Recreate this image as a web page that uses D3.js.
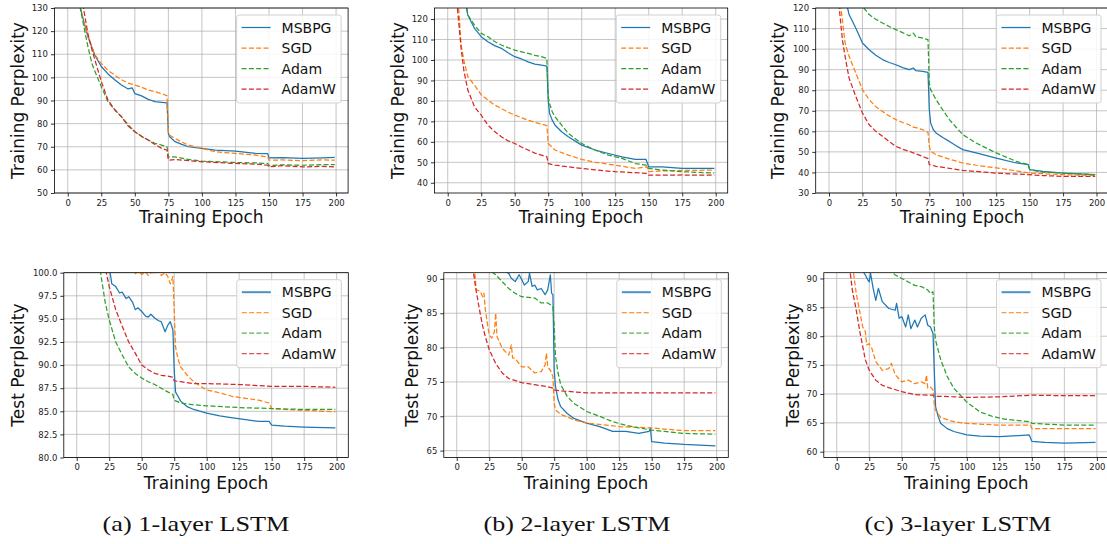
<!DOCTYPE html>
<html><head><meta charset="utf-8">
<script src="https://cdn.jsdelivr.net/npm/d3@7/dist/d3.min.js"></script>
<style>
html,body{margin:0;padding:0;background:#fff;}
svg{display:block;font-family:"DejaVu Sans",sans-serif;}
</style></head>
<body>
<svg id="fig" width="1107" height="544"></svg>
<script>
// ---------------- data (epoch, value) ----------------
const seriesNames = ["MSBPG", "SGD", "Adam", "AdamW"];
const seriesColors = ["#1f77b4", "#ff7f0e", "#2ca02c", "#d62728"];
const xTicks = [0, 25, 50, 75, 100, 125, 150, 175, 200];
const captions = ["(a) 1-layer LSTM", "(b) 2-layer LSTM", "(c) 3-layer LSTM"];

// 1-layer training
const train1MSBPG = [[1,260],[5,170],[9,131],[12,124],[15,117.7],[20,109.8],[25,104.7],[30,101.5],[35,99],[40,96.7],[45,95],[48,95.5],[50,93],[55,92],[60,90.5],[65,89.5],[70,89.2],[74,89],[75,75.8],[76,74.3],[80,72.2],[85,71],[90,70],[100,69.3],[110,68.5],[125,68.1],[140,67.1],[149,67],[150,65.2],[160,65.3],[175,65],[190,65.2],[199,65.4]];
const train1SGD = [[1,260],[5,170],[9,131],[12,124],[15,118],[20,110],[25,106],[30,103],[35,101],[40,99],[45,97.5],[50,96.7],[55,95.8],[60,94.5],[65,93.8],[70,93],[74,92],[75,76.5],[76,75],[80,73.6],[85,72],[90,70.7],[100,69.3],[110,67.8],[125,67.1],[140,66.4],[149,65.6],[150,64.2],[160,64.3],[175,64],[190,64.3],[199,64.2]];
const train1Adam = [[1,260],[5,165],[9,131],[12,122],[15,113.4],[18,106],[20,103],[25,96],[30,89.5],[35,86],[40,83],[45,79.5],[50,76.5],[55,74.5],[60,72.9],[65,71.5],[70,70.7],[74,70],[75,65.6],[80,65.6],[90,64.5],[100,63.8],[125,63.2],[140,63],[149,62.8],[150,61.8],[160,62.2],[175,62],[190,62.3],[199,62.3]];
const train1AdamW = [[1,280],[5,190],[9,145],[12,129],[15,119],[18,112],[20,108],[25,98.2],[30,90.2],[35,86],[40,83],[45,79],[50,76.5],[55,74.5],[60,72.9],[65,71],[70,69.3],[74,68.5],[75,64.2],[80,64.5],[90,64],[100,63.5],[125,62.8],[140,62.5],[149,62],[150,61.3],[160,61.8],[175,61.3],[190,61.5],[199,61.3]];

// 2-layer training
const train2MSBPG = [[1,300],[10,150],[14,125.5],[15,122],[20,115.4],[25,111.4],[30,108.9],[35,107],[40,105.7],[45,103.5],[50,101.6],[55,100.5],[60,99.1],[65,98],[70,97.5],[74,97],[75,80.4],[76,73.9],[78,70.6],[80,68.2],[85,64.9],[90,62.5],[100,58.4],[110,56],[120,54.3],[130,52.7],[140,51.4],[148,51.4],[150,47.8],[160,47.8],[175,47],[199,47]];
const train2SGD = [[1,250],[5,170],[8,127],[10,107.3],[12,100],[15,91.8],[20,87.7],[25,82.9],[30,80.4],[35,78],[40,76.3],[45,74.5],[50,73.1],[55,71.8],[60,70.6],[65,69.5],[70,68.7],[74,67.9],[75,59.2],[80,56],[90,53.5],[100,51.4],[110,50],[125,48.6],[140,47],[149,47.8],[150,45.4],[160,45.8],[175,46],[199,46.2]];
const train2Adam = [[1,300],[10,150],[14,126],[15,122],[20,117],[25,113],[30,111.4],[35,109],[40,107.3],[45,106],[50,104.8],[55,104],[60,103.2],[65,102.3],[70,101.6],[74,100.8],[75,82],[76,78.8],[78,74.7],[80,72.3],[85,68.2],[90,64.1],[100,59.2],[110,56],[120,53.5],[130,51.9],[140,49.4],[148,48.6],[150,47],[160,46.2],[175,45.4],[199,44.8]];
const train2AdamW = [[1,250],[5,150],[7,127],[10,105.7],[12,95],[15,85.3],[20,77.1],[25,73],[30,68.2],[35,65],[40,62.5],[45,60.5],[50,59.2],[55,57.5],[60,56],[65,54.5],[70,53.5],[74,52.7],[75,49.4],[80,48.6],[90,47.8],[100,47],[110,46.3],[125,45.4],[140,44.9],[149,44.6],[150,43.7],[175,43.8],[199,43.7]];

// 3-layer training
const train3MSBPG = [[1,250],[10,140],[13.7,120.5],[15,116.8],[20,110.3],[25,103],[30,99.7],[35,97],[40,94.9],[45,93.5],[50,92.4],[55,91],[60,90],[63,90.8],[65,89.5],[70,89.2],[74,88.7],[75,70.5],[76,64],[78,60.8],[80,59.2],[85,57],[90,55.1],[95,53],[100,51.1],[110,49.5],[125,47],[140,44.6],[149,43.8],[150,41.4],[160,40.5],[175,39.7],[199,38.9]];
const train3SGD = [[1,200],[8.7,121],[10,114.3],[12,103],[15,96.5],[20,88.4],[25,80.3],[30,75.4],[35,72],[40,69.7],[45,67.5],[50,65.7],[55,64.3],[60,63.2],[63,62],[65,61.8],[70,60.8],[74,59.5],[75,52.7],[76,50.3],[80,48.6],[90,46.5],[100,44.6],[110,43.5],[125,42.2],[140,40.8],[150,39.7],[175,38.9],[199,38.6]];
const train3Adam = [[1,300],[15,150],[25,120.8],[30,116.8],[35,114.5],[40,112.7],[45,111],[50,109.5],[55,108],[60,106.5],[63,107.8],[65,106],[70,105.4],[74,104.6],[75,83.5],[76,80.3],[80,75.4],[85,70.5],[90,65.7],[95,62],[100,58.4],[110,54.3],[125,49.5],[140,45.4],[149,43.8],[150,41.4],[160,40.1],[175,39.7],[199,38.9]];
const train3AdamW = [[1,200],[7.5,121],[10,104.6],[12,96.5],[15,85.9],[20,77],[25,68.9],[30,63.2],[35,60],[40,57.6],[45,55],[50,52.7],[55,51.3],[60,50.3],[63,49.5],[65,49],[70,47.8],[74,46.7],[75,43.8],[80,43],[90,42],[100,41],[125,39.7],[150,38.9],[160,38.5],[175,38.1],[199,38.1]];

// 1-layer test
const test1MSBPG = [[1,150],[20,110],[25.6,100.1],[27,98.8],[30,98.5],[33,97.8],[35,97.9],[38,97.2],[40,97.4],[43,96.8],[45,96],[47,96.2],[50,95.8],[53,95.3],[55,95.2],[57,95.5],[60,95.1],[63,94.8],[65,94.7],[68,93.6],[70,94.3],[72,94.7],[74,93.8],[75,89.5],[76,87.1],[78,86.6],[80,86.1],[85,85.5],[90,85.2],[100,84.8],[110,84.5],[120,84.3],[130,84.1],[140,83.9],[148,83.9],[150,83.5],[160,83.4],[175,83.3],[199,83.2]];
const test1SGD = [[1,150],[40,101],[45,99.9],[48,100.2],[50,99.8],[53,100.1],[55,99.7],[58,100.1],[60,99.9],[63,100.2],[65,99.7],[68,100],[70,99.6],[72,98.8],[74,99.6],[75,96],[76,92],[78,90.6],[80,89.8],[85,88.9],[90,88.2],[100,87.3],[110,87],[120,86.6],[130,86.4],[140,86.2],[148,85.9],[150,85.3],[160,85.2],[175,85.1],[199,84.95]];
const test1Adam = [[1,150],[15,105],[18,100.3],[20,98.5],[22,96.7],[25,94.9],[30,92.5],[35,91.1],[40,89.8],[45,89.1],[50,88.6],[55,88.2],[60,87.9],[65,87.5],[70,87.1],[74,86.8],[75,86.2],[80,85.9],[90,85.7],[100,85.6],[125,85.4],[150,85.3],[175,85.2],[199,85.2]];
const test1AdamW = [[1,150],[20,103],[22.6,100.1],[25,98.5],[30,96],[35,94.2],[40,92.5],[45,91.3],[50,90],[55,89.5],[60,89.1],[65,88.9],[70,88.8],[74,88.7],[75,88.3],[80,88.2],[90,88],[100,88],[125,87.9],[150,87.7],[175,87.7],[199,87.6]];

// 2-layer test
const test2MSBPG = [[1,130],[30,95],[38,91],[40,90.8],[42,90.1],[45,89.6],[48,90.6],[50,89.9],[52,89.1],[55,89.6],[56,90.8],[58,88.9],[60,89.1],[62,88.4],[65,88.6],[68,87.7],[70,88.4],[72,90.6],[73,87.9],[74,87.7],[75,76.7],[76,74.3],[78,72.4],[80,71.4],[85,70.4],[90,69.7],[100,69],[110,68.5],[120,67.8],[130,67.8],[140,67.5],[148,67.8],[149,68.3],[150,66.3],[160,66.1],[175,65.9],[199,65.7]];
const test2SGD = [[1,130],[12,95],[15,88.4],[18,88.2],[20,87.4],[21,87.9],[22,85.5],[25,81.8],[27,81.4],[29,82.3],[30,85],[31,81.6],[35,79.9],[40,78.9],[42,80.4],[43,78.5],[45,78.4],[50,77.2],[55,77.2],[60,76.3],[65,76.5],[68,77.5],[69,79.2],[70,77.2],[72,76.7],[74,75.8],[75,71.9],[76,70.9],[80,70.3],[90,69.5],[100,69],[125,68.5],[150,68.3],[175,67.9],[199,67.9]];
const test2Adam = [[1,130],[20,97],[27,91],[30,90.6],[35,89.6],[40,88.6],[45,87.9],[50,87.4],[55,87.3],[60,87.2],[65,86.5],[70,86.5],[74,86],[75,83.1],[76,78.7],[78,76.3],[80,74.6],[85,72.9],[90,71.9],[100,70.7],[110,70],[120,69.2],[130,68.7],[140,68.3],[150,68],[160,67.8],[175,67.5],[199,67.4]];
const test2AdamW = [[1,130],[10,96],[12.8,91],[15,88.2],[18,85],[20,83.1],[22,81.6],[25,79.7],[30,77.7],[35,76.3],[40,75.5],[50,74.9],[60,74.6],[70,74.3],[74,74.1],[75,73.8],[80,73.7],[100,73.4],[125,73.4],[150,73.4],[199,73.4]];

// 3-layer test
const test3MSBPG = [[1,130],[15,100],[20.5,91.1],[22,90.6],[24,89.7],[25,89.4],[26,90.9],[28,88.3],[30,86.2],[32,88.3],[35,86],[40,84.8],[45,84.5],[46,85.7],[48,83.1],[50,83.4],[53,81.6],[55,83.7],[57,81.3],[60,82.8],[62,81.6],[65,83.1],[68,83.7],[70,81.9],[72,81.6],[74,80.5],[75,74.1],[76,67.8],[78,66.1],[80,64.9],[85,64],[90,63.5],[100,62.9],[110,62.7],[125,62.6],[140,62.8],[148,62.9],[150,61.8],[160,61.6],[175,61.5],[199,61.6]];
const test3SGD = [[1,130],[10,100],[12.8,91.1],[15,87.4],[18,83.9],[20,81.6],[22,80.8],[23,78.5],[25,78.7],[27,77.9],[30,75.6],[35,74.1],[40,74.4],[42,75.3],[45,73.3],[50,72.1],[55,72.4],[60,71.8],[65,72.1],[68,71.8],[69,73.3],[70,71],[72,71.2],[74,70.7],[75,68.4],[76,67.2],[80,65.9],[90,65.2],[100,64.9],[125,64.6],[149,64.6],[150,64],[175,64],[199,64]];
const test3Adam = [[1,130],[30,100],[42,91.2],[45,90.6],[50,90],[55,89.4],[60,88.8],[65,88.6],[70,88],[72,87.4],[74,87.7],[75,81.6],[76,79.3],[80,75.9],[85,73],[90,71],[100,68.6],[110,66.9],[120,66.1],[130,65.6],[140,65.4],[149,65.2],[150,64.9],[160,64.8],[175,64.6],[199,64.6]];
const test3AdamW = [[1,130],[8,100],[10.3,91.1],[12,88],[15,84.5],[18,80.5],[20,78.2],[22,75.9],[25,74.1],[30,72.4],[35,71.5],[40,71.1],[50,70.4],[60,69.9],[70,69.8],[74,69.8],[75,69.6],[80,69.6],[100,69.4],[125,69.5],[150,69.8],[175,69.7],[199,69.7]];

const yTicksTrain1 = [50,60,70,80,90,100,110,120,130];
const yTicksTrain2 = [40,50,60,70,80,90,100,110,120];
const yTicksTrain3 = [30,40,50,60,70,80,90,100,110,120];
const yTicksTest1 = [80,82.5,85,87.5,90,92.5,95,97.5,100];
const yTicksTest2 = [65,70,75,80,85,90];
const yTicksTest3 = [60,65,70,75,80,85,90];

// ---------------- layout ----------------
const panels = [
  {left:54.4, right:348.1, top:8, bottom:193, xdom:[-9.95,208.95], ydom:[50,130], yticks:yTicksTrain1, fmt:d3.format("d"), ylabel:"Training Perplexity", ylabX:24, xlabY:223, series:[train1MSBPG,train1SGD,train1Adam,train1AdamW], test:false},
  {left:434.4, right:727.7, top:8, bottom:193, xdom:[-9.95,208.95], ydom:[35,125.4], yticks:yTicksTrain2, fmt:d3.format("d"), ylabel:"Training Perplexity", ylabX:404, xlabY:223, series:[train2MSBPG,train2SGD,train2Adam,train2AdamW], test:false},
  {left:815.7, right:1108.5, top:8, bottom:193, xdom:[-9.95,208.95], ydom:[30,120], yticks:yTicksTrain3, fmt:d3.format("d"), ylabel:"Training Perplexity", ylabX:784, xlabY:223, series:[train3MSBPG,train3SGD,train3Adam,train3AdamW], test:false},
  {left:63.8, right:348.3, top:272.7, bottom:457.5, xdom:[-9.95,208.95], ydom:[80,100], yticks:yTicksTest1, fmt:d3.format(".1f"), ylabel:"Test Perplexity", ylabX:24, xlabY:488.5, series:[test1MSBPG,test1SGD,test1Adam,test1AdamW], test:true},
  {left:443.8, right:728.3, top:272.7, bottom:457.5, xdom:[-9.95,208.95], ydom:[64,90.9], yticks:yTicksTest2, fmt:d3.format("d"), ylabel:"Test Perplexity", ylabX:418, xlabY:488.5, series:[test2MSBPG,test2SGD,test2Adam,test2AdamW], test:true},
  {left:823.8, right:1108.5, top:272.7, bottom:457.5, xdom:[-9.95,208.95], ydom:[59,91], yticks:yTicksTest3, fmt:d3.format("d"), ylabel:"Test Perplexity", ylabX:799, xlabY:488.5, series:[test3MSBPG,test3SGD,test3Adam,test3AdamW], test:true}
];
const captionX = [196, 577, 958];

const svg = d3.select("#fig");
const defs = svg.append("defs");

panels.forEach((p, i) => {
  const x = d3.scaleLinear().domain(p.xdom).range([p.left, p.right]);
  const y = d3.scaleLinear().domain(p.ydom).range([p.bottom, p.top]);
  const g = svg.append("g");
  const clipId = "clip" + i;
  defs.append("clipPath").attr("id", clipId).append("rect")
    .attr("x", p.left).attr("y", p.top).attr("width", p.right - p.left).attr("height", p.bottom - p.top);

  // grid
  g.append("g").selectAll("line").data(xTicks).join("line")
    .attr("x1", d => x(d)).attr("x2", d => x(d)).attr("y1", p.top).attr("y2", p.bottom)
    .attr("stroke", "#b0b0b0").attr("stroke-width", 0.9).attr("opacity", 0.8);
  g.append("g").selectAll("line").data(p.yticks).join("line")
    .attr("x1", p.left).attr("x2", p.right).attr("y1", d => y(d)).attr("y2", d => y(d))
    .attr("stroke", "#b0b0b0").attr("stroke-width", 0.9).attr("opacity", 0.8);

  // lines
  const line = d3.line().x(d => x(d[0])).y(d => y(d[1]));
  const lg = g.append("g").attr("clip-path", `url(#${clipId})`);
  p.series.forEach((s, k) => {
    lg.append("path").datum(s).attr("d", line).attr("fill", "none")
      .attr("stroke", seriesColors[k]).attr("stroke-width", 1.25)
      .attr("stroke-linejoin", "round")
      .attr("stroke-dasharray", k === 0 ? null : "5,2.3");
  });

  // axes
  const xa = g.append("g").attr("transform", `translate(0,${p.bottom})`)
    .call(d3.axisBottom(x).tickValues(xTicks).tickSize(3.5).tickPadding(3).tickFormat(d3.format("d")));
  const ya = g.append("g").attr("transform", `translate(${p.left},0)`)
    .call(d3.axisLeft(y).tickValues(p.yticks).tickSize(3.5).tickPadding(3).tickFormat(p.fmt));
  [xa, ya].forEach(a => {
    a.select(".domain").remove();
    a.selectAll(".tick line").attr("stroke", "#000").attr("stroke-width", 0.8);
    a.selectAll(".tick text").attr("fill", "#222")
      .style("font-size", "8.5px").style("font-family", "'DejaVu Sans', sans-serif");
  });
  // frame
  g.append("rect").attr("x", p.left).attr("y", p.top).attr("width", p.right - p.left).attr("height", p.bottom - p.top)
    .attr("fill", "none").attr("stroke", "#000").attr("stroke-width", 0.8);

  // labels
  g.append("text").attr("x", (p.left + p.right) / 2).attr("y", p.xlabY)
    .attr("text-anchor", "middle").style("font-size", "17px").attr("fill", "#111").text("Training Epoch");
  g.append("text").attr("transform", `translate(${p.ylabX},${(p.top + p.bottom) / 2}) rotate(-90)`)
    .attr("text-anchor", "middle").style("font-size", "17px").attr("fill", "#111").text(p.ylabel);

  // legend
  const lw = 104.5, lh = 88;
  const lx = Math.min(p.right, 1108) - 7 - lw, ly = p.top + 7;
  const leg = g.append("g");
  leg.append("rect").attr("x", lx).attr("y", ly).attr("width", lw).attr("height", lh).attr("rx", 2.5)
    .attr("fill", "#fff").attr("fill-opacity", 0.85).attr("stroke", "#d0d0d0").attr("stroke-width", 1);
  seriesNames.forEach((n, k) => {
    const cy = ly + 12.5 + k * 20.5;
    leg.append("line").attr("x1", lx + 5).attr("x2", lx + 34).attr("y1", cy).attr("y2", cy)
      .attr("stroke", seriesColors[k])
      .attr("stroke-width", p.test && k === 0 ? 2 : 1.25)
      .attr("opacity", p.test ? 0.8 : 1)
      .attr("stroke-dasharray", k === 0 ? null : "5,2.3");
    leg.append("text").attr("x", lx + 45).attr("y", cy + 5).style("font-size", "14px").attr("fill", "#111").text(n);
  });
});

// captions
svg.append("g").selectAll("text").data(captions).join("text")
  .attr("x", (d, i) => captionX[i]).attr("y", 531)
  .attr("text-anchor", "middle")
  .style("font-family", "'Liberation Serif', serif").style("font-size", "22px")
  .attr("textLength", 187).attr("lengthAdjust", "spacingAndGlyphs")
  .attr("fill", "#111")
  .text(d => d);
</script>
</body></html>
